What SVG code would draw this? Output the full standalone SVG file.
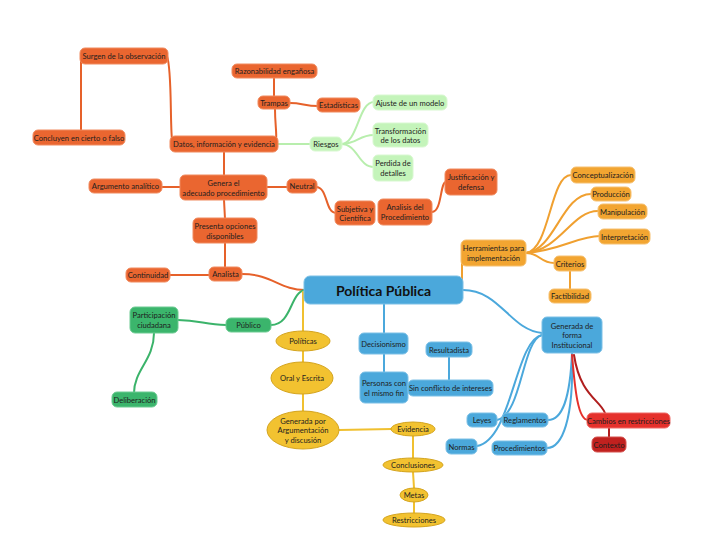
<svg xmlns="http://www.w3.org/2000/svg" width="720" height="540" viewBox="0 0 720 540">
<style>
text{font-family:Lato,"Open Sans","Liberation Sans",sans-serif;font-size:7.6px;fill:#1e1e1e;text-anchor:middle;dominant-baseline:central}
.o{fill:#EA6630;stroke:#F08A5E;stroke-width:1}
.lg{fill:#C4F4BA;stroke:#D8F8D0;stroke-width:1}
.go{fill:#F2A531;stroke:#F6C070;stroke-width:1}
.b{fill:#4BA8DB;stroke:#7CC0E6;stroke-width:1}
.g{fill:#3BB56C;stroke:#6CCB92;stroke-width:1}
.y{fill:#F2C230;stroke:#D4A41E;stroke-width:1}
.r{fill:#E5312C;stroke:#EE6A66;stroke-width:1}
.dr{fill:#C1211F;stroke:#D5524F;stroke-width:1}
.c path{fill:none;stroke-width:2;stroke-linecap:round}
.co{stroke:#E6612A}
.clg{stroke:#B8EEAD}
.cg{stroke:#3BB36A}
.cy{stroke:#F0C030}
.cb{stroke:#4BA8DC}
.cr{stroke:#E5312C}
.cdr{stroke:#B01E1E}
.cgo{stroke:#F0A030}
</style>
<rect width="720" height="540" fill="#ffffff"/>
<g class="c" id="connectors">
<path class="co" d="M81,58 C81,80 81,110 81,131"/>
<path class="co" d="M167,56 C172,70 170,120 172,140"/>
<path class="co" d="M274,78 L274,97"/>
<path class="co" d="M275,109 C275,125 277,133 276,140"/>
<path class="co" d="M290,103 C302,103 305,106 318,106"/>
<path class="co" d="M224,152 L224,176"/>
<path class="co" d="M180,187 L162,187"/>
<path class="co" d="M267,187 L288,187"/>
<path class="co" d="M316,187 C328,187 325,213 336,213"/>
<path class="co" d="M432,212 C442,212 440,182 446,182"/>
<path class="co" d="M224,200 L225,219"/>
<path class="co" d="M225,243 L225,268"/>
<path class="co" d="M210,275 L170,275"/>
<path class="co" d="M242,274 C272,274 280,290 305,290"/>
<path class="clg" d="M277,144 L311,144"/>
<path class="clg" d="M341,144 C358,144 358,102 374,102"/>
<path class="clg" d="M341,144 C358,144 358,135 374,135"/>
<path class="clg" d="M341,144 C358,144 358,167 374,167"/>
<path class="cg" d="M305,290 C290,292 292,325 271,325"/>
<path class="cg" d="M226,325 C205,325 200,320 178,320"/>
<path class="cg" d="M154,333 C154,360 134,370 134,393"/>
<path class="cy" d="M303,292 L303,331"/>
<path class="cy" d="M303,351 L303,362"/>
<path class="cy" d="M303,394 L303,412"/>
<path class="cy" d="M339,430 L392,429"/>
<path class="cy" d="M413,436 L413,458"/>
<path class="cy" d="M413,472 L414,488"/>
<path class="cy" d="M414,502 L414,513"/>
<path class="cb" d="M384,304 L384,333"/>
<path class="cb" d="M384,354 L384,372"/>
<path class="cb" d="M449,357 L449,380"/>
<path class="cb" d="M463,290 C500,290 510,330 542,333"/>
<path class="cb" d="M542,335 C515,340 512,440 477,446"/>
<path class="cb" d="M542,335 C522,340 522,415 497,420"/>
<path class="cb" d="M572,353 C570,400 562,420 548,420"/>
<path class="cb" d="M572,353 C574,420 562,448 547,448"/>
<path class="cr" d="M572,355 C575,390 578,420 588,420"/>
<path class="cdr" d="M574,355 C580,395 600,400 605,413"/>
<path class="cdr" d="M609,428 L609,437"/>
<path class="cgo" d="M462,282 L462,262"/>
<path class="cgo" d="M526,253 C550,250 550,175 571,175"/>
<path class="cgo" d="M526,253 C555,250 562,194 591,194"/>
<path class="cgo" d="M526,253 C560,250 572,211 598,211"/>
<path class="cgo" d="M526,253 C562,250 578,236 600,236"/>
<path class="cgo" d="M526,253 C540,253 540,263 554,263"/>
<path class="cgo" d="M570,271 L570,289"/>
</g>
<g id="n-surgen"><rect class="o" x="80" y="48" width="88" height="16" rx="5"/><text x="124" y="56">Surgen de la observación</text></g>
<g id="n-concluyen"><rect class="o" x="33" y="130" width="92" height="15" rx="5"/><text x="79" y="137.5">Concluyen en cierto o falso</text></g>
<g id="n-datos"><rect class="o" x="170" y="136" width="108" height="16" rx="5"/><text x="224" y="144">Datos, información y evidencia</text></g>
<g id="n-razonabilidad"><rect class="o" x="232" y="64" width="85" height="14" rx="5"/><text x="274.5" y="71">Razonabilidad engañosa</text></g>
<g id="n-trampas"><rect class="o" x="258" y="96" width="32" height="13" rx="5"/><text x="274" y="102.5">Trampas</text></g>
<g id="n-estadisticas"><rect class="o" x="317" y="98" width="43" height="14" rx="5"/><text x="338.5" y="105">Estadísticas</text></g>
<g id="n-ajuste"><rect class="lg" x="373" y="95" width="74" height="15" rx="5"/><text x="410" y="102.5">Ajuste de un modelo</text></g>
<g id="n-transformacion"><rect class="lg" x="373" y="123" width="55" height="24" rx="5"/><text x="400.5" y="130.5">Transformación</text><text x="400.5" y="140">de los datos</text></g>
<g id="n-perdida"><rect class="lg" x="373" y="155" width="40" height="26" rx="5"/><text x="393" y="163">Perdida de</text><text x="393" y="173">detalles</text></g>
<g id="n-riesgos"><rect class="lg" x="310" y="137" width="32" height="14" rx="5"/><text x="326" y="144">Riesgos</text></g>
<g id="n-argumento"><rect class="o" x="89" y="179" width="73" height="14" rx="5"/><text x="125.5" y="186">Argumento analítico</text></g>
<g id="n-genera"><rect class="o" x="180" y="175" width="87" height="25" rx="5"/><text x="223.5" y="183">Genera el</text><text x="223.5" y="192.5">adecuado procedimiento</text></g>
<g id="n-neutral"><rect class="o" x="287" y="179" width="30" height="14" rx="5"/><text x="302" y="186">Neutral</text></g>
<g id="n-subjetiva"><rect class="o" x="335" y="201" width="40" height="24" rx="5"/><text x="355" y="208.5">Subjetiva y</text><text x="355" y="218">Científica</text></g>
<g id="n-analisis"><rect class="o" x="378" y="199" width="54" height="26" rx="5"/><text x="405" y="207">Analisis del</text><text x="405" y="217">Procedimiento</text></g>
<g id="n-justificacion"><rect class="o" x="445" y="169" width="52" height="26" rx="5"/><text x="471" y="177">Justificación y</text><text x="471" y="187">defensa</text></g>
<g id="n-presenta"><rect class="o" x="193" y="218" width="64" height="25" rx="5"/><text x="225" y="226">Presenta opciones</text><text x="225" y="235.5">disponibles</text></g>
<g id="n-analista"><rect class="o" x="209" y="267" width="33" height="14" rx="5"/><text x="225.5" y="274">Analista</text></g>
<g id="n-continuidad"><rect class="o" x="126" y="268" width="44" height="14" rx="5"/><text x="148" y="275">Continuidad</text></g>
<g id="n-conceptualizacion"><rect class="go" x="571" y="167" width="64" height="16" rx="5"/><text x="603" y="175">Conceptualización</text></g>
<g id="n-produccion"><rect class="go" x="591" y="187" width="40" height="14" rx="5"/><text x="611" y="194">Producción</text></g>
<g id="n-manipulacion"><rect class="go" x="598" y="204" width="49" height="15" rx="5"/><text x="622.5" y="211.5">Manipulación</text></g>
<g id="n-interpretacion"><rect class="go" x="599" y="229" width="51" height="15" rx="5"/><text x="624.5" y="236.5">Interpretación</text></g>
<g id="n-herramientas"><rect class="go" x="461" y="240" width="65" height="26" rx="5"/><text x="493.5" y="248">Herramientas para</text><text x="493.5" y="258">implementación</text></g>
<g id="n-criterios"><rect class="go" x="554" y="256" width="32" height="15" rx="5"/><text x="570" y="263.5">Criterios</text></g>
<g id="n-factibilidad"><rect class="go" x="549" y="289" width="42" height="14" rx="5"/><text x="570" y="296">Factibilidad</text></g>
<g id="n-politica-publica"><rect class="b" x="304" y="276" width="159" height="28" rx="6"/><text x="383.5" y="290.5" style="font-size:14px;font-weight:bold;fill:#111">Política Pública</text></g>
<g id="n-participacion"><rect class="g" x="130" y="307" width="48" height="26" rx="5"/><text x="154" y="315">Participación</text><text x="154" y="325">ciudadana</text></g>
<g id="n-publico"><rect class="g" x="226" y="318" width="45" height="14" rx="5"/><text x="248.5" y="325">Público</text></g>
<g id="n-deliberacion"><rect class="g" x="112" y="392" width="45" height="15" rx="5"/><text x="134.5" y="399.5">Deliberación</text></g>
<g id="n-politicas"><ellipse class="y" cx="303" cy="341" rx="27" ry="10"/><text x="303" y="341">Políticas</text></g>
<g id="n-oral"><ellipse class="y" cx="302" cy="378" rx="31" ry="16"/><text x="302" y="378">Oral y Escrita</text></g>
<g id="n-generada-arg"><ellipse class="y" cx="303" cy="430" rx="36" ry="19"/><text x="303" y="420.5">Generada por</text><text x="303" y="430">Argumentación</text><text x="303" y="439.5">y discusión</text></g>
<g id="n-evidencia"><ellipse class="y" cx="413" cy="429" rx="22" ry="7"/><text x="413" y="429">Evidencia</text></g>
<g id="n-conclusiones"><ellipse class="y" cx="413" cy="465" rx="30" ry="7"/><text x="413" y="465">Conclusiones</text></g>
<g id="n-metas"><ellipse class="y" cx="414" cy="495" rx="14" ry="7"/><text x="414" y="495">Metas</text></g>
<g id="n-restricciones"><ellipse class="y" cx="414" cy="520" rx="31" ry="7"/><text x="414" y="520">Restricciones</text></g>
<g id="n-decisionismo"><rect class="b" x="359" y="333" width="49" height="21" rx="5"/><text x="383.5" y="343.5">Decisionismo</text></g>
<g id="n-resultadista"><rect class="b" x="426" y="342" width="46" height="15" rx="5"/><text x="449" y="349.5">Resultadista</text></g>
<g id="n-personas"><rect class="b" x="360" y="372" width="48" height="31" rx="5"/><text x="384" y="383">Personas con</text><text x="384" y="393">el mismo fin</text></g>
<g id="n-sinconflicto"><rect class="b" x="408" y="380" width="85" height="16" rx="5"/><text x="450.5" y="388">Sin conflicto de intereses</text></g>
<g id="n-institucional"><rect class="b" x="542" y="317" width="60" height="36" rx="5"/><text x="572" y="326">Generada de</text><text x="572" y="335">forma</text><text x="572" y="344.5">Institucional</text></g>
<g id="n-leyes"><rect class="b" x="467" y="413" width="30" height="14" rx="5"/><text x="482" y="420">Leyes</text></g>
<g id="n-reglamentos"><rect class="b" x="502" y="413" width="46" height="14" rx="5"/><text x="525" y="420">Reglamentos</text></g>
<g id="n-normas"><rect class="b" x="446" y="439" width="31" height="15" rx="5"/><text x="461.5" y="446.5">Normas</text></g>
<g id="n-procedimientos"><rect class="b" x="492" y="441" width="55" height="14" rx="5"/><text x="519.5" y="448">Procedimientos</text></g>
<g id="n-cambios"><rect class="r" x="587" y="413" width="83" height="15" rx="5"/><text x="628.5" y="420.5">Cambios en restricciones</text></g>
<g id="n-contexto"><rect class="dr" x="592" y="437" width="34" height="15" rx="5"/><text x="609" y="444.5">Contexto</text></g>
</svg>
